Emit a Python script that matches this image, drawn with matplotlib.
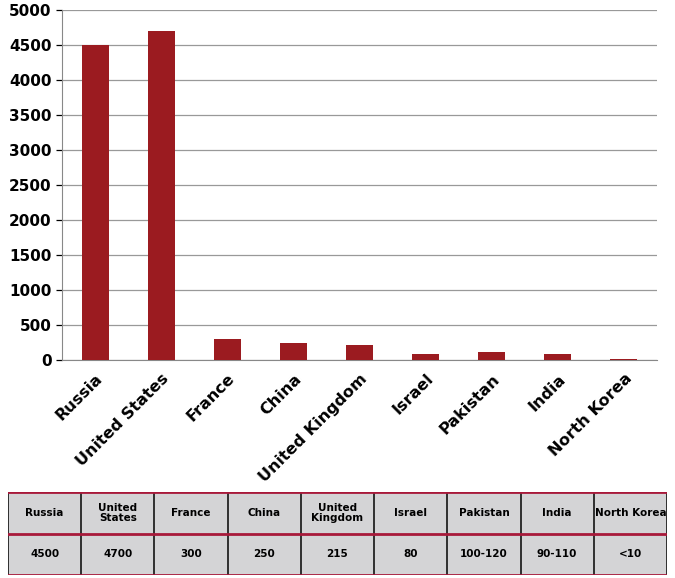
import matplotlib.pyplot as plt
import numpy as np

countries = ['Russia', 'United States', 'France', 'China', 'United Kingdom',
             'Israel', 'Pakistan', 'India', 'North Korea']
warheads = [4500, 4700, 300, 250, 215, 80, 110, 90, 10]
table_heads = ['Russia', 'United\nStates', 'France', 'China', 'United\nKingdom',
               'Israel', 'Pakistan', 'India', 'North Korea']
table_vals = ['4500', '4700', '300', '250', '215', '80', '100-120', '90-110', '<10']

W, H = 675, 578
fig = plt.figure(figsize=(W/100, H/100), dpi=100)

# bar chart
ax = fig.add_axes([62/W, (H-360)/H, 595/W, 350/H])
x = np.arange(len(countries))
ax.bar(x, warheads, width=0.41, color='#9B1B20', zorder=3)
ax.set_ylim(0, 5000)
ax.set_xlim(-0.5, len(countries)-0.5)
ax.set_yticks(range(0, 5001, 500))
ax.yaxis.grid(True, color='#999999', lw=0.9, zorder=0)
ax.tick_params(axis='y', labelsize=11, length=4, width=0.9)
for lab in ax.get_yticklabels():
    lab.set_fontweight('bold')
ax.set_xticks(x)
ax.set_xticklabels(countries, rotation=45, ha='right', rotation_mode='anchor',
                   fontsize=11.5, fontweight='bold')
ax.tick_params(axis='x', length=0, pad=8)
for s in ['top', 'right']:
    ax.spines[s].set_visible(False)
ax.spines['left'].set_color('#888888')
ax.spines['bottom'].set_color('#888888')

# table
tx = fig.add_axes([8/W, (H-575)/H, 659/W, 83/H])
n = len(table_heads)
tx.set_xlim(0, n)
tx.set_ylim(0, 2)
tx.axis('off')
tx.add_patch(plt.Rectangle((0, 0), n, 2, color='#D4D4D6', zorder=0))
for i in range(n + 1):
    tx.plot([i, i], [0, 2], color='#222222', lw=1.3, zorder=1)
for j in range(3):
    tx.plot([0, n], [j, j], color='#A8193A', lw=2, zorder=2)
for i in range(n):
    tx.text(i+0.5, 1.5, table_heads[i], ha='center', va='center', fontsize=7.5,
            fontweight='bold', linespacing=1.0)
    tx.text(i+0.5, 0.5, table_vals[i], ha='center', va='center', fontsize=7.5,
            fontweight='bold')

fig.savefig('out.png', dpi=100)
